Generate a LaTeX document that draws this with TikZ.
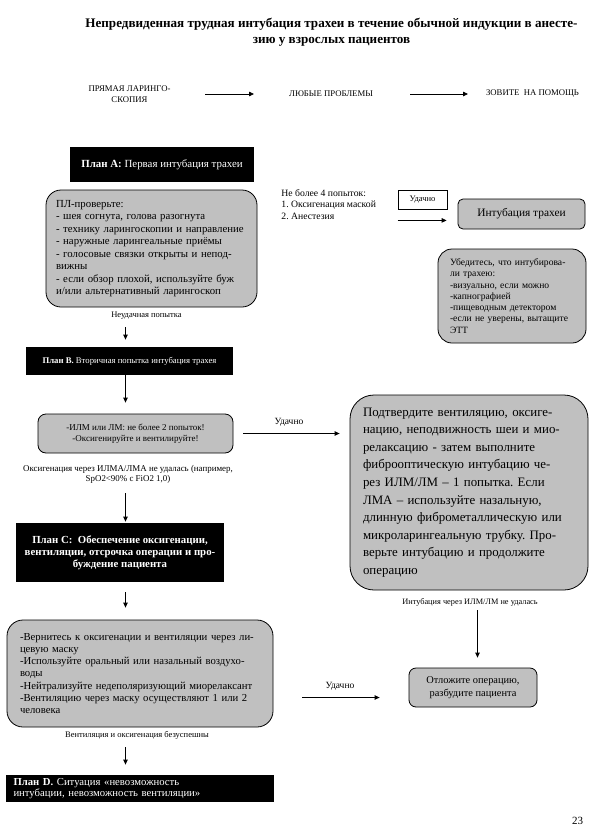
\documentclass[tikz,border=0pt]{standalone}
\usepackage{fontspec}
\setmainfont{Liberation Serif}
\usetikzlibrary{arrows.meta,calc}
\definecolor{boxgray}{RGB}{192,192,192}
\frenchspacing
\tikzset{
  graybox/.style={draw, line width=0.8pt, fill=boxgray, rounded corners=#1, inner sep=0pt},
  graybox/.default=7pt,
  planbox/.style={fill=black, text=white, inner sep=0pt},
  note/.style={inner sep=0pt, align=center, font=\fontsize{8.5}{10}\selectfont},
}
\begin{document}
\begin{tikzpicture}[x=1pt, y=-1pt, line width=0.8pt,
    >={Triangle[length=5pt,width=4.5pt]}]
  \useasboundingbox[fill=white] (0,0) rectangle (601,833);

  % title and first row
  \node[inner sep=0pt, align=center, font=\fontsize{13.1}{16}\selectfont\bfseries] (title) at (331.5,32)
    {Непредвиденная трудная интубация трахеи в течение обычной индукции в анесте-\\зию у взрослых пациентов};
  \node[note, font=\fontsize{8.7}{10.5}\selectfont] (dl) at (129.5,94) {ПРЯМАЯ ЛАРИНГО-\\СКОПИЯ};
  \node[note, font=\fontsize{8.7}{10}\selectfont] (any) at (331,94) {ЛЮБЫЕ ПРОБЛЕМЫ};
  \node[note, font=\fontsize{8.7}{10}\selectfont] (help) at (532.5,94) {ЗОВИТЕ\ \ НА ПОМОЩЬ};
  \draw[->, shorten <=75.5pt, shorten >=77pt] (dl.center) -- (any.center);
  \draw[->, shorten <=79pt, shorten >=64.5pt] (any.center) -- (help.center);

  % left column
  \coordinate (axis) at (125.5,0);
  \node[planbox, minimum width=184pt, minimum height=35pt, font=\fontsize{10.9}{12}\selectfont] (planA) at (162,164.5)
    {\textbf{План А:} Первая интубация трахеи};
  \node[graybox=15pt, minimum width=211pt, minimum height=117pt, text width=191pt, align=left,
    font=\fontsize{10.8}{12.5}\selectfont] (check) at (151.5,248.5)
    {ПЛ-проверьте:\\
     - шея согнута, голова разогнута\\
     - технику ларингоскопии и направление\\
     - наружные ларингеальные приёмы\\
     - голосовые связки открыты и непод-\\
     вижны\\
     - если обзор плохой, используйте буж\\
     и/или альтернативный ларингоскоп};
  \node[note] (fail1) at (146.5,316) {Неудачная попытка};
  \node[planbox, minimum width=207pt, minimum height=28pt, font=\fontsize{8.7}{10}\selectfont] (planB) at (129.5,361)
    {\textbf{План В.} Вторичная попытка интубация трахея};
  \node[graybox=8pt, minimum width=195pt, minimum height=39pt, align=center, font=\fontsize{9}{11.3}\selectfont] (b1) at (135.5,433.5)
    {-ИЛМ или ЛМ: не более 2 попыток!\\-Оксигенируйте и вентилируйте!};
  \node[note, font=\fontsize{8.9}{10.5}\selectfont] (oxfail) at (128,474.5)
    {Оксигенация через ИЛМА/ЛМА не удалась (например,\\SpO2<90\% с FiO2 1,0)};
  \node[planbox, minimum width=208pt, minimum height=59pt, align=center,
    font=\fontsize{10.8}{11.9}\selectfont\bfseries] (planC) at (120,552.5)
    {План С:\ \ Обеспечение оксигенации,\\вентиляции, отсрочка операции и про-\\буждение пациента};
  \node[graybox=16pt, minimum width=266pt, minimum height=107pt, text width=240pt, align=left,
    font=\fontsize{10.7}{12.3}\selectfont] (c1) at (140,673.5)
    {-Вернитесь к оксигенации и вентиляции через ли-\\
     цевую маску\\
     -Используйте оральный или назальный воздухо-\\
     воды\\
     -Нейтрализуйте недеполяризующий миорелаксант\\
     -Вентиляцию через маску осуществляют 1 или 2\\
     человека};
  \node[note] (ventfail) at (137,735) {Вентиляция и оксигенация безуспешны};
  \node[planbox, minimum width=268pt, minimum height=27pt, text width=253pt, align=left,
    font=\fontsize{10.7}{10.6}\selectfont] (planD) at (140,788.5)
    {\textbf{План D.} Ситуация «невозможность\\интубации, невозможность вентиляции»};

  \draw[->, shorten <=11pt, shorten >=7pt] (fail1.center -| axis) -- (planB.north -| axis);
  \draw[->, shorten >=11pt] (planB.south -| axis) -- (b1.north -| axis);
  \draw[->, shorten <=18.5pt, shorten >=1pt] (oxfail.center -| axis) -- (planC.north -| axis);
  \draw[->, shorten <=10pt, shorten >=12pt] (planC.south -| axis) -- (c1.north -| axis);
  \draw[->, shorten <=12pt, shorten >=10pt] (ventfail.center -| axis) -- (planD.north -| axis);

  % right column
  \node[inner sep=0pt, anchor=west, align=left, font=\fontsize{9.7}{11.5}\selectfont] (tries) at (281,204.5)
    {Не более 4 попыток:\\1. Оксигенация маской\\2. Анестезия};
  \node[draw, inner sep=0pt, minimum width=49pt, minimum height=19pt, font=\fontsize{8.5}{10}\selectfont] (ok2) at (422.5,199.5) {Удачно};
  \node[graybox=5pt, minimum width=127pt, minimum height=30pt, font=\fontsize{11.4}{13}\selectfont] (intub) at (521.5,214)
    {Интубация трахеи};
  \draw[->, shorten >=11pt] ($(ok2.south west)+(0,11)$) -- ($(ok2.south west -| intub.west)+(0,11)$);
  \node[graybox=14pt, minimum width=148pt, minimum height=94pt, text width=124pt, align=left,
    font=\fontsize{9.6}{11.3}\selectfont] (verify) at (512,296)
    {Убедитесь, что интубирова-\\
     ли трахею:\\
     -визуально, если можно\\
     -капнографией\\
     -пищеводным детектором\\
     -если не уверены, вытащите\\
     ЭТТ};

  \node[note, font=\fontsize{9.5}{11}\selectfont] (ok1) at (289,422) {Удачно};
  \node[graybox=24pt, minimum width=238pt, minimum height=195pt, text width=212pt, align=left,
    font=\fontsize{12.9}{17.6}\selectfont] (fobi) at (469,492.5)
    {Подтвердите вентиляцию, оксиге-\\
     нацию, неподвижность шеи и мио-\\
     релаксацию - затем выполните\\
     фиброоптическую интубацию че-\\
     рез ИЛМ/ЛМ – 1 попытка. Если\\
     ЛМА – используйте назальную,\\
     длинную фиброметаллическую или\\
     микроларингеальную трубку. Про-\\
     верьте интубацию и продолжите\\
     операцию};
  \draw[->, shorten <=10pt, shorten >=10pt] (b1.east) -- (b1.east -| fobi.west);

  \coordinate (raxis) at (477.5,0);
  \node[note, font=\fontsize{8.3}{10}\selectfont] (fail3) at (470,602) {Интубация через ИЛМ/ЛМ не удалась};
  \node[graybox, minimum width=128pt, minimum height=39pt, align=center, font=\fontsize{10.4}{13.3}\selectfont] (postpone) at (473,687.5)
    {Отложите операцию,\\разбудите пациента};
  \draw[->, shorten <=8pt, shorten >=10pt] (fail3.center -| raxis) -- (postpone.north -| raxis);
  \node[note, font=\fontsize{9.5}{11}\selectfont] (ok3) at (340,686) {Удачно};
  \draw[->, shorten <=29pt, shorten >=29pt] ($(c1.east |- postpone.west)+(0,10)$) -- ($(postpone.west)+(0,10)$);

  \node[inner sep=0pt, font=\fontsize{11}{13}\selectfont] (page) at (577.5,821) {23};
\end{tikzpicture}
\end{document}
